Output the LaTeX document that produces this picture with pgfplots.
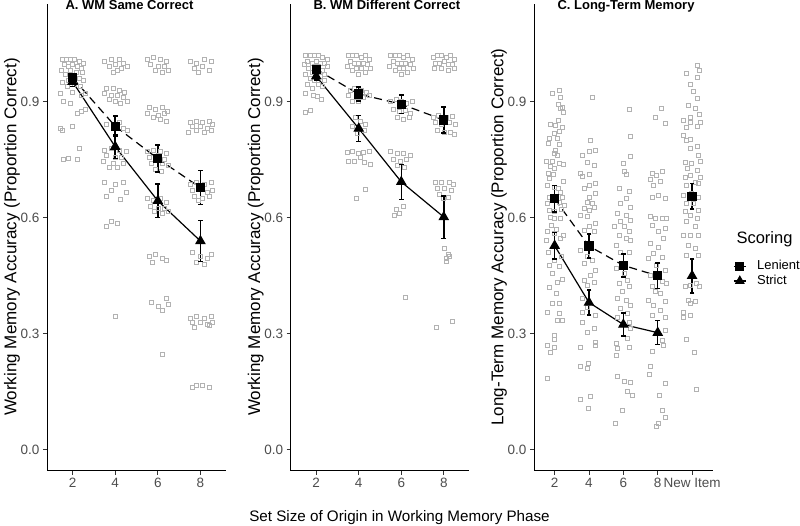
\documentclass[border=0pt]{standalone}
\usepackage{fontspec}
\setmainfont{Liberation Sans}
\usepackage{pgfplots}
\pgfplotsset{compat=1.18}
\definecolor{scat}{RGB}{178,178,178}
\definecolor{tickgray}{RGB}{77,77,77}
\pgfplotsset{
  panel/.style={
    scale only axis, height=466.7bp, anchor=south west,
    axis x line*=bottom, axis y line*=left,
    axis line style={-, black, line width=0.9bp},
    ymin=-0.055, ymax=1.152, xmin=0.4,
    ytick={0,0.3,0.6,0.9}, yticklabels={0.0,0.3,0.6,0.9},
    tick style={black!80, line width=0.8bp},
    major tick length=4bp, tick align=outside,
    tick label style={font=\fontsize{13.5bp}{15bp}\selectfont, text=tickgray},
    /pgf/number format/assume math mode=true,
  },
  jit/.style={only marks, mark=square, mark size=2bp, scat, mark options={line width=0.5bp}},
  eb/.style={black, solid, line width=1.5bp, mark=-, mark size=2.4bp, mark options={line width=1.5bp, solid}, unbounded coords=jump, forget plot},
  len/.style={black, line width=1.2bp, dash pattern=on 8bp off 5bp, mark=square*, mark size=4bp, mark options={solid}},
  strict/.style={black, line width=1.2bp, solid, mark=triangle*, mark size=5bp},
  keyimg/.style={legend image code/.code={\draw[mark repeat=2, mark phase=2, ##1] plot coordinates {(0bp,0bp) (6bp,0bp) (12bp,0bp)};}},
}
\begin{document}
\begin{tikzpicture}
\useasboundingbox (0,0) rectangle (800bp,526bp);
% ---------------- Panel A ----------------
\begin{axis}[panel, at={(47bp,55.3bp)}, width=179bp, xmax=4.6,
  xtick={1,2,3,4}, xticklabels={2,4,6,8}]
\addplot[jit] coordinates {
(0.75,1.01)(0.85,1.01)(0.95,1.01)(1.05,1.01)(1.15,1.005)(1.25,1.0)(0.8,0.995)(0.9,0.99)(1.0,0.995)(1.1,0.99)(1.2,0.985)(0.73,0.98)(0.95,0.98)(1.08,0.975)(1.22,0.975)(0.82,0.97)(1.02,0.965)(1.15,0.96)(0.9,0.955)(1.25,0.955)(0.75,0.95)(1.05,0.945)(0.88,0.94)(1.18,0.94)
(0.72,0.92)(1.0,0.925)(1.2,0.915)(1.3,0.92)(0.78,0.90)(0.95,0.895)(1.1,0.87)(1.2,0.875)(1.3,0.88)(0.72,0.83)(1.0,0.835)(0.75,0.825)(1.15,0.78)(0.78,0.75)(0.9,0.752)(1.12,0.75)
(1.75,1.005)(1.9,1.01)(2.1,1.01)(2.2,1.0)(1.85,0.99)(2.0,0.995)(2.15,0.985)(2.28,0.99)(2.05,0.98)(1.95,0.975)
(1.8,0.935)(1.95,0.935)(2.1,0.93)(2.22,0.925)(1.75,0.92)(1.9,0.915)(2.05,0.915)(2.18,0.91)(1.85,0.905)(2.0,0.9)(2.12,0.895)(2.28,0.9)
(1.8,0.84)(2.1,0.845)(2.2,0.83)(2.28,0.825)
(1.75,0.775)(1.9,0.78)(2.1,0.775)(2.25,0.77)(1.8,0.76)(2.0,0.755)(2.15,0.755)(1.72,0.745)(1.95,0.74)(2.2,0.74)(2.05,0.73)(1.85,0.73)
(1.75,0.69)(2.0,0.685)(2.2,0.69)(1.9,0.67)(2.25,0.665)(1.8,0.655)(2.12,0.648)
(1.9,0.59)(2.05,0.585)(1.8,0.578)(2.0,0.345)
(2.75,1.01)(2.9,1.015)(3.05,1.01)(3.2,1.005)(2.82,0.995)(3.0,0.99)(3.15,0.99)(2.95,0.98)(3.25,0.98)(3.1,0.975)
(2.8,0.885)(2.95,0.88)(3.1,0.885)(3.22,0.875)(2.75,0.87)(3.0,0.865)(3.15,0.87)(2.9,0.86)(3.05,0.855)(3.2,0.85)
(2.75,0.77)(2.9,0.775)(3.05,0.77)(3.2,0.765)(2.8,0.755)(3.0,0.76)(3.15,0.75)(2.85,0.74)(3.1,0.74)(3.25,0.735)(2.95,0.725)(3.08,0.72)
(2.75,0.65)(2.9,0.645)(3.05,0.65)(3.2,0.64)(2.82,0.63)(3.0,0.625)(3.15,0.625)(2.92,0.615)(3.1,0.61)(3.25,0.615)
(2.8,0.5)(2.95,0.505)(3.1,0.495)(3.2,0.49)(2.88,0.485)
(2.85,0.38)(3.0,0.37)(3.2,0.39)(3.25,0.375)(3.1,0.36)(3.1,0.245)
(3.75,1.005)(3.9,1.0)(4.1,1.01)(4.25,1.005)(3.85,0.985)(4.05,0.99)(4.2,0.98)(3.95,0.975)
(3.75,0.845)(3.9,0.85)(4.05,0.845)(4.2,0.85)(4.28,0.84)(3.8,0.835)(4.0,0.835)(4.15,0.83)(3.9,0.825)(4.1,0.82)(4.25,0.825)(3.72,0.82)
(3.75,0.685)(3.9,0.69)(4.1,0.685)(4.25,0.69)(3.8,0.67)(4.0,0.675)(4.15,0.665)(4.28,0.67)(3.85,0.655)(4.05,0.65)(4.2,0.655)(3.95,0.645)
(3.8,0.51)(4.0,0.5)(4.15,0.495)(4.25,0.505)(3.9,0.485)(4.1,0.48)
(3.75,0.34)(3.9,0.345)(4.1,0.34)(4.25,0.345)(3.8,0.33)(4.0,0.33)(4.15,0.325)(4.28,0.33)(3.85,0.315)(4.2,0.32)
(3.8,0.16)(3.9,0.165)(4.05,0.165)(4.2,0.16)
};
\addplot[eb] coordinates {(1,0.951)(1,0.971)(1,nan)(2,0.810)(2,0.862)(2,nan)(3,0.717)(3,0.787)(3,nan)(4,0.633)(4,0.721)};
\addplot[eb] coordinates {(1,0.939)(1,0.963)(1,nan)(2,0.752)(2,0.814)(2,nan)(3,0.600)(3,0.686)(3,nan)(4,0.486)(4,0.592)};
\addplot[len] coordinates {(1,0.961) (2,0.836) (3,0.752) (4,0.677)};
\addplot[strict] coordinates {(1,0.951) (2,0.783) (3,0.643) (4,0.539)};
\end{axis}
% ---------------- Panel B ----------------
\begin{axis}[panel, at={(290.7bp,55.3bp)}, width=178.6bp, xmax=4.6,
  xtick={1,2,3,4}, xticklabels={2,4,6,8}]
\addplot[jit] coordinates {
(0.75,1.02)(0.85,1.02)(0.95,1.02)(1.05,1.02)(1.15,1.015)(1.25,1.01)(0.8,1.005)(0.9,1.0)(1.0,1.005)(1.1,1.0)(1.2,1.0)(0.72,0.995)(0.95,0.99)(1.05,0.99)(1.25,0.99)(0.82,0.985)(1.15,0.98)(0.9,0.975)(1.0,0.975)(1.2,0.97)(0.75,0.97)(1.1,0.965)(0.85,0.96)(0.95,0.955)(1.2,0.955)(0.8,0.945)(1.05,0.945)(1.15,0.94)(0.9,0.935)
(0.74,0.92)(0.94,0.916)(1.13,0.905)(0.74,0.873)(0.86,0.877)(1.02,0.914)
(1.75,1.02)(1.85,1.02)(1.95,1.02)(2.05,1.015)(2.15,1.02)(2.25,1.01)(1.8,1.005)(1.9,1.0)(2.0,1.0)(2.1,1.0)(2.2,0.995)(1.72,0.99)(1.95,0.985)(2.05,0.985)(2.28,0.985)(1.85,0.98)(2.15,0.975)(2.0,0.97)
(1.8,0.93)(1.9,0.935)(2.05,0.93)(2.18,0.925)(1.75,0.915)(1.95,0.91)(2.1,0.91)(2.25,0.915)(1.85,0.9)(2.0,0.9)
(1.92,0.858)(2.03,0.85)(2.15,0.84)(1.85,0.835)(2.12,0.825)(1.97,0.818)
(1.72,0.768)(1.85,0.77)(1.98,0.765)(2.1,0.768)(2.25,0.77)(1.75,0.745)(1.9,0.745)(2.12,0.743)(2.28,0.737)(2.03,0.755)
(2.15,0.673)(1.94,0.65)
(2.75,1.02)(2.85,1.02)(2.95,1.02)(3.05,1.015)(3.15,1.02)(3.25,1.01)(2.8,1.005)(2.9,1.0)(3.0,1.0)(3.1,1.0)(3.2,0.995)(2.72,0.99)(2.95,0.985)(3.05,0.985)(3.28,0.985)(2.85,0.98)(3.15,0.975)(3.0,0.97)
(2.75,0.9)(2.88,0.905)(3.0,0.9)(3.12,0.895)(3.25,0.9)(2.8,0.88)(2.95,0.875)(3.1,0.878)(3.22,0.87)(2.9,0.86)(3.05,0.855)(3.18,0.858)
(2.75,0.77)(2.9,0.765)(3.05,0.765)(3.2,0.76)(2.8,0.75)(2.98,0.745)(3.12,0.75)(2.9,0.735)(3.08,0.73)
(2.88,0.62)(2.95,0.61)(2.83,0.605)(3.05,0.63)(3.09,0.393)
(3.75,1.015)(3.85,1.02)(3.95,1.02)(4.05,1.015)(4.15,1.02)(4.25,1.01)(3.8,1.0)(3.9,1.0)(4.0,1.005)(4.1,0.995)(4.2,0.995)(3.78,0.985)(3.95,0.985)(4.1,0.98)(4.25,0.985)
(3.75,0.86)(3.88,0.865)(4.05,0.86)(4.2,0.862)(3.8,0.845)(3.95,0.84)(4.12,0.845)(4.28,0.84)(3.85,0.825)(4.0,0.82)(4.15,0.82)(4.25,0.815)
(3.8,0.69)(3.95,0.692)(4.12,0.69)(4.23,0.685)(3.84,0.675)(4.02,0.676)(4.18,0.67)(3.9,0.66)(4.1,0.652)(3.98,0.65)
(4.02,0.52)(4.1,0.505)(4.05,0.495)(4.12,0.5)(3.83,0.317)(4.2,0.332)(4.06,0.487)
};
\addplot[eb] coordinates {(1,0.975)(1,0.991)(1,nan)(2,0.901)(2,0.937)(2,nan)(3,0.869)(3,0.917)(3,nan)(4,0.818)(4,0.886)};
\addplot[eb] coordinates {(1,0.955)(1,0.975)(1,nan)(2,0.796)(2,0.864)(2,nan)(3,0.647)(3,0.737)(3,nan)(4,0.546)(4,0.656)};
\addplot[len] coordinates {(1,0.983) (2,0.919) (3,0.893) (4,0.852)};
\addplot[strict] coordinates {(1,0.965) (2,0.830) (3,0.692) (4,0.601)};
\end{axis}
% ---------------- Panel C ----------------
\begin{axis}[panel, at={(534bp,55.3bp)}, width=178.7bp, xmax=5.6,
  xtick={1,2,3,4,5}, xticklabels={2,4,6,8,New Item},
  legend style={at={(axis description cs:1.1136,0.422)}, anchor=west, draw=none, fill=none,
    font=\fontsize{13bp}{15bp}\selectfont, row sep=2.2bp, inner sep=0pt,
    nodes={inner sep=0pt, text height=9.5bp, text depth=2.8bp},
    /tikz/every odd column/.append style={column sep=10.7bp}},
  legend cell align=left]
\addplot[jit, forget plot] coordinates {
(0.93,0.92)(1.13,0.929)(1.16,0.91)(1.10,0.892)(1.17,0.882)(1.25,0.871)(1.22,0.886)(1.10,0.852)(0.88,0.84)(1.03,0.838)(1.22,0.832)(1.13,0.823)(0.98,0.817)(0.84,0.804)(1.08,0.804)(0.81,0.791)(1.13,0.79)(1.03,0.774)(0.98,0.765)(1.08,0.761)(0.77,0.746)(0.93,0.746)(1.13,0.74)(1.25,0.737)(0.88,0.733)(1.0,0.727)(0.81,0.714)(0.96,0.711)(0.84,0.701)(1.25,0.694)(0.79,0.682)(0.98,0.677)(1.10,0.675)
(0.84,0.653)(1.22,0.653)(0.79,0.636)(1.13,0.638)(1.27,0.632)(0.84,0.619)(0.98,0.615)(1.17,0.597)(1.0,0.597)(0.79,0.563)(0.98,0.559)(1.17,0.546)(0.77,0.541)(0.84,0.477)(1.13,0.473)(1.08,0.433)(0.93,0.378)(1.13,0.378)(0.79,0.356)(1.13,0.352)
(0.9,0.58)(1.05,0.57)(1.2,0.62)(0.88,0.6)(1.15,0.665)(0.95,0.645)(1.25,0.555)(0.8,0.51)(1.0,0.49)(1.2,0.5)(0.92,0.455)(1.22,0.44)(0.85,0.42)(1.05,0.405)
(1.08,0.334)(1.22,0.334)(1.0,0.296)(0.98,0.285)(0.79,0.27)(1.0,0.265)(0.88,0.252)(0.79,0.184)
(2.10,0.91)(2.03,0.80)(2.0,0.77)(2.19,0.775)(1.81,0.761)(1.95,0.743)(2.15,0.735)(1.76,0.714)(2.0,0.711)(1.81,0.707)(2.0,0.684)(2.19,0.688)(1.85,0.675)
(2.0,0.653)(2.19,0.662)(1.95,0.64)(2.1,0.636)(1.85,0.623)(2.0,0.619)(2.15,0.627)(1.76,0.606)(1.95,0.602)(2.19,0.584)(2.0,0.576)(1.85,0.567)(2.15,0.563)(1.76,0.516)(1.95,0.499)(2.1,0.49)(1.85,0.481)(2.19,0.464)(2.05,0.451)(1.85,0.438)(2.15,0.433)(1.95,0.425)(1.81,0.391)(1.95,0.369)(1.81,0.356)(2.19,0.348)
(1.81,0.33)(1.95,0.304)(2.15,0.313)(2.19,0.278)(2.17,0.27)(1.74,0.263)(1.76,0.214)(1.95,0.209)(1.97,0.222)(1.76,0.131)(2.05,0.137)(1.97,0.107)
(3.18,0.88)(3.21,0.81)(3.21,0.758)(3.0,0.74)(3.04,0.719)(3.07,0.712)(2.87,0.675)
(3.17,0.667)(3.07,0.649)(3.21,0.627)(2.92,0.636)(2.83,0.61)(3.07,0.606)(3.21,0.593)(2.92,0.589)(2.73,0.576)(3.02,0.576)(3.17,0.563)(2.87,0.554)(3.07,0.546)(3.21,0.541)(2.78,0.528)(2.92,0.511)(3.17,0.511)(2.78,0.468)(3.02,0.455)(3.12,0.438)(2.87,0.429)(3.17,0.421)(2.97,0.408)(2.83,0.39)(3.07,0.386)(3.21,0.373)(2.92,0.364)(3.12,0.352)(2.83,0.343)
(3.17,0.33)(3.21,0.313)(3.12,0.287)(2.78,0.274)(2.81,0.261)(2.78,0.244)(3.17,0.265)(2.83,0.188)(3.02,0.177)(3.21,0.173)(3.12,0.151)(3.26,0.14)(2.97,0.101)(2.75,0.067)
(4.10,0.882)(3.92,0.859)(4.21,0.843)(3.83,0.714)(4.12,0.72)(3.97,0.708)(3.78,0.699)(4.07,0.694)(3.87,0.684)
(3.83,0.653)(4.02,0.658)(4.21,0.649)(3.78,0.602)(3.92,0.597)(4.12,0.597)(4.26,0.597)(3.83,0.58)(4.21,0.571)(4.02,0.563)(4.17,0.546)(3.78,0.533)(4.02,0.524)(3.87,0.507)(4.12,0.498)(3.73,0.494)(3.97,0.477)(4.21,0.464)(3.78,0.451)(4.12,0.434)(4.26,0.429)(3.83,0.421)(3.92,0.408)(4.07,0.404)(3.73,0.386)(4.21,0.382)(3.87,0.373)(4.07,0.36)(3.83,0.347)
(4.21,0.343)(4.21,0.308)(4.12,0.283)(4.17,0.27)(3.83,0.253)(3.78,0.214)(3.76,0.194)(4.21,0.171)(4.05,0.139)(4.12,0.102)(4.21,0.082)(4.02,0.067)(3.95,0.061)
(5.14,0.994)(5.2,0.981)(4.84,0.972)(5.14,0.962)(4.94,0.945)(5.04,0.927)(5.16,0.908)(4.89,0.889)(5.09,0.883)(4.96,0.86)(5.21,0.866)(4.75,0.851)(4.94,0.847)(5.14,0.837)(4.84,0.834)(5.23,0.845)(4.73,0.813)(4.96,0.802)(4.84,0.8)(5.14,0.785)(4.94,0.778)(5.18,0.761)(4.8,0.742)(4.99,0.74)(5.23,0.745)(4.86,0.727)(5.14,0.723)(4.94,0.71)(4.8,0.703)(5.23,0.705)(5.09,0.692)(4.83,0.682)(5.18,0.688)
(4.75,0.658)(4.99,0.662)(5.18,0.653)(4.84,0.636)(5.04,0.636)(4.8,0.615)(5.18,0.619)(4.94,0.606)(5.14,0.597)(4.84,0.589)(5.09,0.576)(4.75,0.554)(4.94,0.554)(5.18,0.554)(4.89,0.528)(5.09,0.52)(4.84,0.503)(5.18,0.503)(5.12,0.429)(5.2,0.422)(4.8,0.421)(4.94,0.425)(4.89,0.386)(5.09,0.382)(4.75,0.356)(4.94,0.348)
(4.95,0.378)(4.75,0.342)(4.84,0.285)(5.07,0.252)(5.12,0.156)
};
\addplot[eb] coordinates {(1,0.614)(1,0.682)(1,nan)(2,0.495)(2,0.557)(2,nan)(3,0.446)(3,0.506)(3,nan)(4,0.416)(4,0.482)(4,nan)(5,0.622)(5,0.688)};
\addplot[eb] coordinates {(1,0.493)(1,0.561)(1,nan)(2,0.348)(2,0.412)(2,nan)(3,0.293)(3,0.353)(3,nan)(4,0.271)(4,0.333)(4,nan)(5,0.405)(5,0.493)};
\addplot[len, forget plot] coordinates {(1,0.648) (2,0.526) (3,0.476) (4,0.449)};
\addplot[len, only marks, forget plot] coordinates {(5,0.655)};
\addplot[strict, forget plot] coordinates {(1,0.527) (2,0.380) (3,0.323) (4,0.302)};
\addplot[strict, only marks, forget plot] coordinates {(5,0.449)};
\addlegendimage{black, line width=1.2bp, solid, mark=square*, mark size=3.8bp, keyimg}
\addlegendentry{Lenient}
\addlegendimage{black, line width=1.2bp, solid, mark=triangle*, mark size=4.6bp, keyimg}
\addlegendentry{Strict}
\end{axis}
% ---------------- Text ----------------
\node[anchor=base west, font=\bfseries\fontsize{13bp}{15bp}\selectfont] at (62bp,516bp) {A. WM Same Correct};
\node[anchor=base west, font=\bfseries\fontsize{13bp}{15bp}\selectfont] at (310bp,516bp) {B. WM Different Correct};
\node[anchor=base west, font=\bfseries\fontsize{13bp}{15bp}\selectfont] at (554bp,516bp) {C. Long-Term Memory};
\node[rotate=90, font=\fontsize{17bp}{19bp}\selectfont] at (12bp,289bp) {Working Memory Accuracy (Proportion Correct)};
\node[rotate=90, font=\fontsize{17bp}{19bp}\selectfont] at (255.7bp,289bp) {Working Memory Accuracy (Proportion Correct)};
\node[rotate=90, font=\fontsize{17bp}{19bp}\selectfont] at (499bp,289bp) {Long-Term Memory Accuracy (Proportion Correct)};
\node[anchor=base, font=\fontsize{15.2bp}{17bp}\selectfont] at (399.5bp,5bp) {Set Size of Origin in Working Memory Phase};
\node[anchor=base west, font=\fontsize{16.5bp}{18bp}\selectfont] at (733bp,282.5bp) {Scoring};
\end{tikzpicture}
\end{document}
